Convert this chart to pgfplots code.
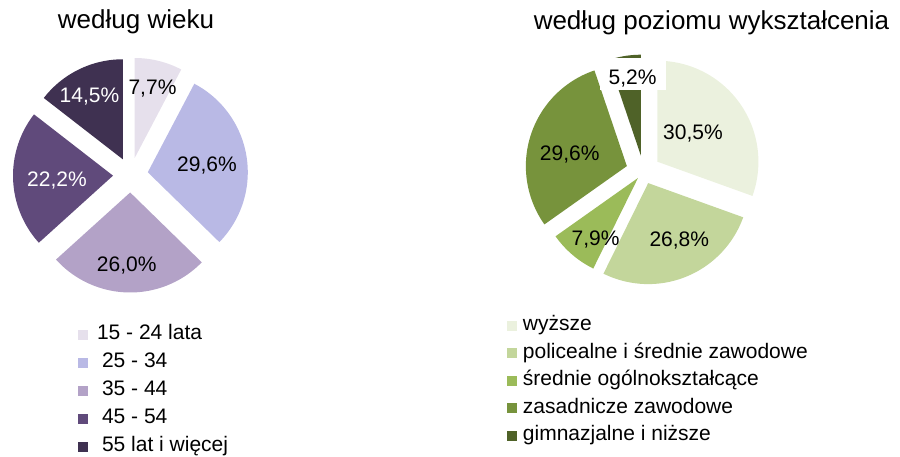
\documentclass[border=0pt]{standalone}
\usepackage{pgfplots}
\pgfplotsset{compat=1.18}
\usepackage{pgfplotstable}
\usepackage{fontspec}
\setmainfont{Liberation Sans}
\definecolor{a1}{HTML}{E6E0EC}
\definecolor{a2}{HTML}{B9B9E5}
\definecolor{a3}{HTML}{B3A2C7}
\definecolor{a4}{HTML}{604A7B}
\definecolor{a5}{HTML}{3F3151}
\definecolor{b1}{HTML}{EBF1DE}
\definecolor{b2}{HTML}{C3D69B}
\definecolor{b3}{HTML}{9BBB59}
\definecolor{b4}{HTML}{77933C}
\definecolor{b5}{HTML}{4F6228}
\newcommand\lbl{\fontsize{21pt}{25pt}\selectfont}
\newcommand\ttl{\fontsize{26pt}{30pt}\selectfont}
% slice: #1 cx, #2 cy, #3 radius, #4 offset, #5 percent, #6 colour
\newcommand\slice[6]{%
  \pgfmathsetmacro\sA{90-3.6*\cum}%
  \pgfmathsetmacro\sB{90-3.6*(\cum+#5)}%
  \pgfmathsetmacro\sM{(\sA+\sB)/2}%
  \pgfmathsetmacro\sX{#1+#4*cos(\sM)}%
  \pgfmathsetmacro\sY{#2+#4*sin(\sM)}%
  \edef\tmpplot{\noexpand\addplot[fill=#6,draw=none,domain=\sB:\sA,samples=90]
    ({\sX+#3*cos(x)},{\sY+#3*sin(x)}) -- (axis cs:\sX,\sY) -- cycle;}%
  \tmpplot
  \pgfmathsetmacro\tmpcum{\cum+#5}\xdef\cum{\tmpcum}%
}
\pgfplotsset{piestyle/.style={
  hide axis, scale only axis, width=900pt, height=456pt,
  xmin=0, xmax=900, ymin=0, ymax=456, clip=false,
  legend cell align=left,
  legend image code/.code={\fill[##1] (0pt,-5pt) rectangle (10pt,5pt);},
}}
\begin{document}
\begin{tikzpicture}
\useasboundingbox (0,0) rectangle (900pt,456pt);
% ---- według wieku ----
\begin{axis}[piestyle,
  legend style={at={(0.0867,0.2873)}, anchor=north west, draw=none, fill=none,
    inner sep=0pt, outer sep=0pt, row sep=8pt, font=\lbl,
    nodes={inner sep=0pt, text height=15pt, text depth=5pt},
    /tikz/every odd column/.append style={column sep=9pt}}]
\xdef\cum{0}
\slice{130.5}{281}{100}{17.5}{7.7}{a1}\addlegendentry{15 - 24 lata}
\slice{130.5}{281}{100}{17.5}{29.6}{a2}\addlegendentry{\hspace{5pt}25 - 34}
\slice{130.5}{281}{100}{17.5}{26.0}{a3}\addlegendentry{\hspace{5pt}35 - 44}
\slice{130.5}{281}{100}{17.5}{22.2}{a4}\addlegendentry{\hspace{5pt}45 - 54}
\slice{130.5}{281}{100}{17.5}{14.5}{a5}\addlegendentry{\hspace{5pt}55 lat i więcej}
\node[anchor=base, font=\ttl] at (axis cs:136,427) {według wieku};
\node[anchor=base, font=\lbl] at (axis cs:152.5,361) {7,7\%};
\node[anchor=base, font=\lbl] at (axis cs:207,284) {29,6\%};
\node[anchor=base, font=\lbl] at (axis cs:126.7,184.3) {26,0\%};
\node[anchor=base, font=\lbl, text=white] at (axis cs:57,269.3) {22,2\%};
\node[anchor=base, font=\lbl, text=white] at (axis cs:89.5,353) {14,5\%};
\end{axis}
% ---- według poziomu wykształcenia ----
\begin{axis}[piestyle,
  legend style={at={(0.5633,0.3081)}, anchor=north west, draw=none, fill=none,
    inner sep=0pt, outer sep=0pt, row sep=7.5pt, font=\lbl,
    nodes={inner sep=0pt, text height=15pt, text depth=5pt},
    /tikz/every odd column/.append style={column sep=6pt}}]
\xdef\cum{0}
\slice{643.5}{284.5}{101}{17}{30.5}{b1}\addlegendentry{wyższe}
\slice{643.5}{284.5}{101}{12.5}{26.8}{b2}\addlegendentry{policealne i średnie zawodowe}
\slice{643.5}{284.5}{101}{8.5}{7.9}{b3}\addlegendentry{średnie ogólnokształcące}
\slice{643.5}{284.5}{101}{17.5}{29.6}{b4}\addlegendentry{zasadnicze zawodowe}
\slice{643.5}{284.5}{101}{16}{5.2}{b5}\addlegendentry{gimnazjalne i niższe}
\node[anchor=base, font=\ttl] at (axis cs:711.5,426.5) {według poziomu wykształcenia};
\fill[white] (axis cs:600,366) rectangle (axis cs:666,398);
\node[anchor=base, font=\lbl] at (axis cs:632.5,371) {5,2\%};
\node[anchor=base, font=\lbl] at (axis cs:693,316) {30,5\%};
\node[anchor=base, font=\lbl] at (axis cs:569.7,295.3) {29,6\%};
\node[anchor=base, font=\lbl] at (axis cs:595.5,211) {7,9\%};
\node[anchor=base, font=\lbl] at (axis cs:679.3,210) {26,8\%};
\end{axis}
\end{tikzpicture}
\end{document}
